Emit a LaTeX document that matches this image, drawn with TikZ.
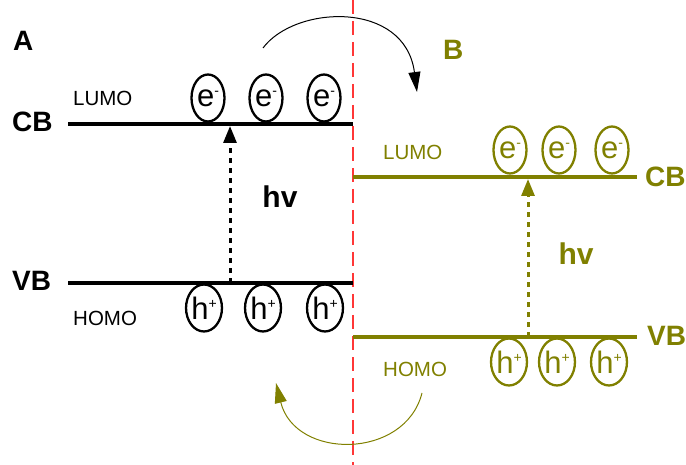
\documentclass[tikz,border=0pt]{standalone}
\usepackage{fontspec}
\setmainfont{Liberation Sans}
\usetikzlibrary{arrows.meta,shapes.geometric}
\definecolor{olivebase}{RGB}{128,128,0}
\definecolor{divider}{RGB}{255,55,55}
\newcommand{\elec}{e\raisebox{11pt}{\fontsize{14}{14}\selectfont -}}
\newcommand{\hole}{h\raisebox{11pt}{\fontsize{14}{14}\selectfont +}}

\begin{document}
\begin{tikzpicture}[x=1pt,y=-1pt,
  level/.style={line width=4pt},
  carrier/.style={draw, ellipse, line width=2.3pt, minimum width=33pt,
    minimum height=47pt, inner sep=0pt, font=\fontsize{31}{31}\selectfont},
  bigbold/.style={font=\fontsize{28}{28}\selectfont\bfseries, inner sep=0pt},
  orbital/.style={font=\fontsize{20.5}{20.5}\selectfont, inner sep=0pt, anchor=west},
  photon/.style={font=\fontsize{30}{30}\selectfont\bfseries, inner sep=0pt},
  excite/.style={line width=3pt, dash pattern=on 5pt off 5pt,
    -{Triangle[length=17pt,width=13pt]}},
  transfer/.style={line width=1pt, -{Triangle[length=20pt,width=12pt]}},
]
\useasboundingbox (0,0) rectangle (686,465);

% divider between the two semiconductors
\coordinate (divtop) at (353,0);
\coordinate (divbot) at (353,465);
\draw[divider, line width=1.3pt, dash pattern=on 14pt off 7pt] (divtop) -- (divbot);

% ---------------- semiconductor A ----------------
\node[bigbold, anchor=west] (labA) at (13,41) {A};
\node[bigbold, anchor=west] (cbA) at (12,122) {CB};
\node[bigbold, anchor=west] (vbA) at (12,281) {VB};
\node[orbital] (lumoA) at (73,98) {LUMO};
\node[orbital] (homoA) at (73,318) {HOMO};

\coordinate (cbAl) at (68,124);
\coordinate (cbAr) at (353,124);
\coordinate (vbAl) at (68,283);
\coordinate (vbAr) at (353,283);
\draw[level] (cbAl) -- (cbAr);
\draw[level] (vbAl) -- (vbAr);

\node[carrier] (eA1) at (208,98) {\elec};
\node[carrier] (eA2) at (266,98) {\elec};
\node[carrier] (eA3) at (324,98) {\elec};
\node[carrier] (hA1) at (204,308) {\hole};
\node[carrier] (hA2) at (263,308) {\hole};
\node[carrier] (hA3) at (325,308) {\hole};

\coordinate (exAbot) at (230,283);
\coordinate (exAtop) at (230,126);
\draw[excite] (exAbot) -- (exAtop);
\node[photon] (hvA) at (280,197) {hv};

% ---------------- semiconductor B ----------------
\begin{scope}[olivebase]
\node[bigbold, anchor=west] (labB) at (443,50) {B};
\node[bigbold, anchor=west] (cbB) at (645,177) {CB};
\node[bigbold, anchor=west] (vbB) at (647,336) {VB};
\node[orbital] (lumoB) at (383,152) {LUMO};
\node[orbital] (homoB) at (383,369) {HOMO};

\coordinate (cbBl) at (353,177);
\coordinate (cbBr) at (637,177);
\coordinate (vbBl) at (353,337);
\coordinate (vbBr) at (637,337);
\draw[level] (cbBl) -- (cbBr);
\draw[level] (vbBl) -- (vbBr);

\node[carrier] (eB1) at (510,150) {\elec};
\node[carrier] (eB2) at (559,150) {\elec};
\node[carrier] (eB3) at (612,150) {\elec};
\node[carrier] (hB1) at (509,362) {\hole};
\node[carrier] (hB2) at (557,362) {\hole};
\node[carrier] (hB3) at (609,362) {\hole};

\coordinate (exBbot) at (528,337);
\coordinate (exBtop) at (528,179);
\draw[excite] (exBbot) -- (exBtop);
\node[photon] (hvB) at (576,254) {hv};
\end{scope}

% ---------------- charge transfer ----------------
\coordinate (elstart) at (263,48);
\coordinate (elend) at (417,92);
\draw[transfer] (elstart) .. controls (295,5) and (405,0) .. (elend);

\coordinate (hostart) at (422,393);
\coordinate (hoend) at (276,383);
\draw[transfer, olivebase] (hostart) .. controls (405,460) and (295,460) .. (hoend);
\end{tikzpicture}
\end{document}
